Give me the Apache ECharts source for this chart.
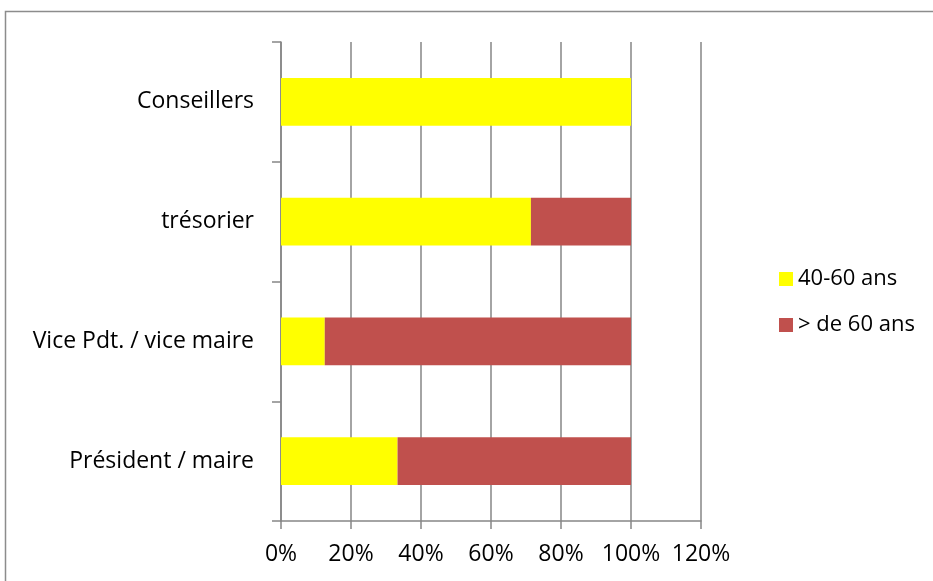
<!DOCTYPE html>
<html><head><meta charset="utf-8">
<script src="https://cdn.jsdelivr.net/npm/echarts@6/dist/echarts.min.js"></script>
<style>html,body{margin:0;padding:0;background:#fff}#c{width:933px;height:581px}</style>
</head><body><div id="c"></div>
<script>
const categories = ['Président / maire', 'Vice Pdt. / vice maire', 'trésorier', 'Conseillers'];
const series4060 = [33.3, 12.5, 71.4, 100];
const seriesOver60 = [66.7, 87.5, 28.6, 0];
const seriesNames = ['40-60 ans', '> de 60 ans'];
const xTicks = [0, 20, 40, 60, 80, 100, 120];

const FONT = 'Open Sans';
const FS = 23;
const chart = echarts.init(document.getElementById('c'));
chart.setOption({
  animation: false,
  textStyle: { fontFamily: FONT },
  graphic: [{ type: 'rect', shape: { x: 5.5, y: 11.5, width: 1200, height: 1200 }, style: { fill: 'none', stroke: '#8c8c8c', lineWidth: 1.5 }, silent: true }],
  grid: { left: 281, right: 232, top: 42, bottom: 60 },
  legend: {
    orient: 'vertical', left: 774, top: 263, itemGap: 24,
    itemWidth: 14, itemHeight: 14, icon: 'rect',
    textStyle: { fontFamily: FONT, fontSize: 22, color: '#000' },
    data: seriesNames
  },
  xAxis: {
    type: 'value', min: xTicks[0], max: xTicks[xTicks.length - 1], interval: 20,
    axisLine: { show: true, lineStyle: { color: '#868686', width: 1.5 } },
    axisTick: { show: true, length: 8, lineStyle: { color: '#868686', width: 1.5 } },
    splitLine: { show: true, lineStyle: { color: '#868686', width: 1.5 } },
    axisLabel: { formatter: v => v + '%', fontFamily: FONT, fontSize: FS, color: '#000', margin: 22 }
  },
  yAxis: {
    type: 'category', data: categories,
    axisLine: { show: true, lineStyle: { color: '#868686', width: 1.5 } },
    axisTick: { show: true, length: 9, lineStyle: { color: '#868686', width: 1.5 } },
    axisLabel: { fontFamily: FONT, fontSize: FS, color: '#000', margin: 27 }
  },
  series: [
    { name: seriesNames[0], type: 'bar', stack: 's', data: series4060, barCategoryGap: '60%', itemStyle: { color: '#ffff00' } },
    { name: seriesNames[1], type: 'bar', stack: 's', data: seriesOver60, barCategoryGap: '60%', itemStyle: { color: '#c0504d' } }
  ]
});
</script></body></html>
